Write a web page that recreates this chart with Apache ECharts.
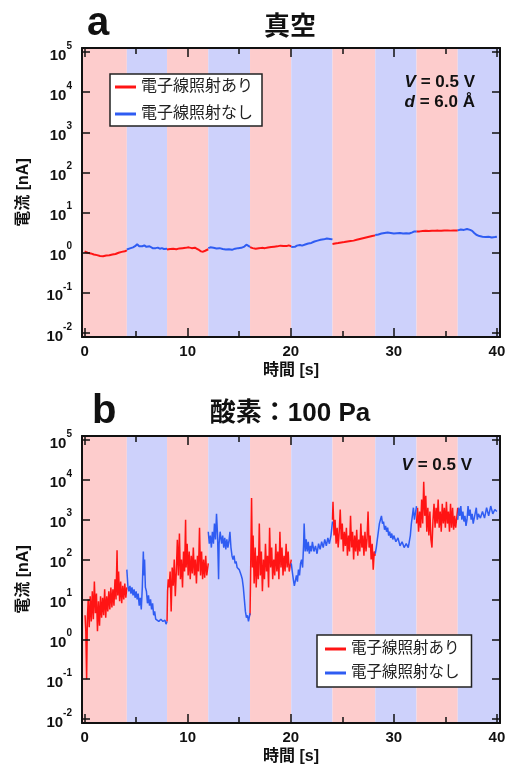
<!DOCTYPE html>
<html>
<head>
<meta charset="utf-8">
<script src="https://cdn.jsdelivr.net/npm/echarts@6/dist/echarts.min.js"></script>
<style>
  html, body { margin: 0; padding: 0; background: #fff; }
  #chart { width: 506px; height: 771px; }
</style>
</head>
<body>
<div id="chart"></div>
<script>
// 時間軸・電流軸の範囲
const X_MIN = -0.25, X_MAX = 40.3;
const Y_MIN = Math.pow(10, -2.1), Y_MAX = Math.pow(10, 5.1);

// 照射あり/なしの区間境界 [s]
const bandEdges = [-0.25, 4.1, 8.0, 12.0, 16.05, 20.05, 24.05, 28.2, 32.2, 36.2, 40.3];

const seriesNames = ['電子線照射あり', '電子線照射なし'];

// a 真空 : [時間 s, 電流 nA]
const vacOn = [
  [[0,1.07],[0.3,1.0],[0.6,0.96],[0.9,0.9],[1.2,0.87],[1.5,0.83],[1.8,0.82],[2.1,0.85],[2.4,0.86],[2.7,0.9],[3.0,0.93],[3.3,1.0],[3.6,1.05],[3.9,1.09],[4.1,1.14]],
  [[8.0,1.2],[8.3,1.23],[8.6,1.25],[8.9,1.22],[9.2,1.28],[9.5,1.3],[9.8,1.32],[10.1,1.36],[10.4,1.3],[10.7,1.33],[10.9,1.25],[11.1,1.17],[11.3,1.08],[11.5,1.06],[11.7,1.12],[12.0,1.22]],
  [[16.05,1.38],[16.3,1.3],[16.6,1.26],[16.9,1.29],[17.2,1.32],[17.5,1.3],[17.8,1.35],[18.1,1.38],[18.4,1.41],[18.7,1.44],[19.0,1.5],[19.3,1.47],[19.6,1.46],[19.8,1.52],[20.05,1.45]],
  [[24.05,1.65],[24.3,1.7],[24.6,1.74],[24.9,1.8],[25.2,1.84],[25.5,1.9],[25.8,1.96],[26.1,2.0],[26.4,2.1],[26.7,2.2],[27.0,2.3],[27.3,2.4],[27.6,2.5],[27.9,2.6],[28.2,2.7]],
  [[32.2,3.4],[32.5,3.4],[32.8,3.45],[33.1,3.5],[33.4,3.45],[33.7,3.5],[34.0,3.52],[34.3,3.55],[34.6,3.5],[34.9,3.56],[35.2,3.6],[35.5,3.55],[35.8,3.6],[36.2,3.55]]
];
const vacOff = [
  [[4.1,1.2],[4.4,1.28],[4.7,1.36],[4.9,1.45],[5.1,1.62],[5.3,1.45],[5.45,1.34],[5.6,1.45],[5.8,1.52],[6.0,1.4],[6.1,1.33],[6.3,1.45],[6.45,1.5],[6.6,1.3],[6.75,1.2],[6.9,1.3],[7.1,1.34],[7.3,1.26],[7.5,1.3],[7.7,1.24],[8.0,1.25]],
  [[12.0,1.3],[12.2,1.36],[12.5,1.33],[12.8,1.28],[13.1,1.3],[13.4,1.24],[13.7,1.2],[14.0,1.22],[14.3,1.18],[14.6,1.26],[14.9,1.3],[15.2,1.32],[15.5,1.42],[15.7,1.58],[15.85,1.7],[16.05,1.4]],
  [[20.05,1.38],[20.2,1.45],[20.4,1.4],[20.6,1.5],[20.9,1.55],[21.1,1.5],[21.4,1.6],[21.7,1.7],[22.0,1.75],[22.3,1.9],[22.6,2.0],[22.9,2.1],[23.2,2.15],[23.5,2.25],[23.8,2.2],[24.05,2.15]],
  [[28.2,2.75],[28.5,2.85],[28.8,3.0],[29.1,3.1],[29.4,3.2],[29.7,3.1],[30.0,3.0],[30.3,3.05],[30.6,3.1],[30.9,3.0],[31.2,3.05],[31.5,3.0],[31.8,3.2],[32.0,3.4],[32.2,3.4]],
  [[36.2,3.6],[36.5,3.8],[36.8,3.7],[37.1,3.9],[37.4,3.7],[37.6,3.5],[37.8,3.1],[38.0,2.8],[38.3,2.6],[38.6,2.5],[38.9,2.45],[39.2,2.5],[39.5,2.4],[39.8,2.45],[40.0,2.5]]
];

// b 酸素 100 Pa : [時間 s, 電流 nA]
const oxOn = [
  [[0.05,4],[0.12,1.6],[0.2,0.1],[0.27,3.2],[0.35,10],[0.45,2],[0.55,12],[0.65,2.8],[0.75,16],[0.85,3.2],[0.95,28],[1.05,4.5],[1.15,14],[1.25,1.6],[1.35,9],[1.45,2.2],[1.55,12],[1.65,3.5],[1.75,11],[1.85,4],[1.95,18],[2.05,3.5],[2.15,12],[2.25,5],[2.35,16],[2.45,5.6],[2.55,20],[2.65,6.3],[2.75,18],[2.85,7],[2.95,32],[3.05,10],[3.15,170],[3.22,12.6],[3.3,50],[3.4,9],[3.5,28],[3.6,8],[3.7,22],[3.8,10],[3.9,25],[4.0,11],[4.1,20]],
  [[8.0,2.8],[8.05,16],[8.12,32],[8.2,20],[8.3,50],[8.4,5],[8.5,63],[8.6,22],[8.7,100],[8.8,12],[8.9,50],[9.0,316],[9.1,40],[9.2,450],[9.3,32],[9.4,100],[9.5,20],[9.6,160],[9.7,50],[9.8,1000],[9.85,63],[9.95,250],[10.05,40],[10.15,160],[10.25,32],[10.35,125],[10.45,45],[10.55,200],[10.65,40],[10.75,100],[10.85,25],[10.95,125],[11.05,50],[11.15,630],[11.25,40],[11.35,160],[11.45,32],[11.55,100],[11.65,35],[11.75,125],[11.85,40],[12.0,80]],
  [[16.05,4],[16.1,32],[16.2,3500],[16.28,63],[16.35,400],[16.45,25],[16.55,200],[16.65,20],[16.75,125],[16.85,32],[16.95,800],[17.05,40],[17.15,160],[17.25,16],[17.35,100],[17.45,32],[17.55,250],[17.65,50],[17.75,125],[17.85,20],[17.95,630],[18.05,63],[18.15,200],[18.25,32],[18.35,100],[18.45,40],[18.55,250],[18.65,50],[18.75,160],[18.85,32],[18.95,500],[19.05,63],[19.15,200],[19.25,40],[19.35,125],[19.45,50],[19.55,250],[19.65,63],[19.75,160],[19.85,50],[20.05,100]],
  [[24.05,1000],[24.1,2800],[24.2,400],[24.3,1000],[24.4,250],[24.5,630],[24.6,200],[24.7,500],[24.8,1800],[24.9,320],[25.0,800],[25.1,160],[25.2,500],[25.3,220],[25.4,630],[25.5,125],[25.6,400],[25.7,160],[25.8,1250],[25.9,200],[26.0,500],[26.1,100],[26.2,400],[26.3,160],[26.4,560],[26.5,125],[26.6,320],[26.7,160],[26.8,800],[26.9,200],[27.0,400],[27.1,125],[27.2,500],[27.3,160],[27.4,320],[27.5,1600],[27.6,200],[27.7,400],[27.8,100],[27.9,250],[28.0,56],[28.1,160],[28.2,125]],
  [[32.2,800],[32.3,2000],[32.4,500],[32.5,1600],[32.6,630],[32.7,3200],[32.8,800],[32.9,9000],[33.0,1250],[33.1,4000],[33.2,500],[33.3,2000],[33.4,400],[33.5,1600],[33.6,320],[33.7,200],[33.8,1000],[33.9,2500],[34.0,630],[34.1,2000],[34.2,800],[34.3,3200],[34.4,630],[34.5,1600],[34.6,500],[34.7,2500],[34.8,800],[34.9,2000],[35.0,630],[35.1,2800],[35.2,800],[35.3,1600],[35.4,500],[35.5,2500],[35.6,630],[35.7,2000],[35.8,560],[35.9,1250],[36.0,630],[36.2,2000]]
];
const oxOff = [
  [[4.1,56],[4.2,22],[4.3,16],[4.4,22],[4.5,14],[4.6,20],[4.7,12.6],[4.8,18],[4.9,11],[5.0,16],[5.1,10],[5.2,14],[5.3,7],[5.4,11],[5.5,5.6],[5.6,20],[5.7,160],[5.76,40],[5.82,100],[5.9,20],[6.0,16],[6.1,8],[6.2,12.6],[6.3,7],[6.4,10],[6.5,5.6],[6.6,8],[6.7,4],[6.8,5],[6.9,3.2],[7.0,3.2],[7.2,2.8],[7.4,3.2],[7.6,2.8],[7.8,3],[7.9,2.4],[8.0,2.8]],
  [[12.0,500],[12.1,250],[12.2,400],[12.3,200],[12.4,500],[12.5,250],[12.6,800],[12.7,320],[12.8,1400],[12.9,400],[13.0,32],[13.05,250],[13.15,500],[13.3,250],[13.4,400],[13.5,200],[13.6,350],[13.7,180],[13.8,320],[13.9,200],[14.0,280],[14.1,500],[14.2,200],[14.3,125],[14.4,100],[14.5,125],[14.6,80],[14.7,90],[14.8,63],[14.9,70],[15.0,56],[15.1,50],[15.2,40],[15.3,32],[15.4,20],[15.5,10],[15.6,5],[15.7,3.5],[15.8,4],[15.9,2.8],[16.05,4.5]],
  [[20.05,80],[20.15,50],[20.25,32],[20.35,22],[20.45,20],[20.55,40],[20.65,28],[20.75,56],[20.85,40],[20.95,80],[21.05,100],[21.15,63],[21.25,250],[21.3,800],[21.4,160],[21.5,320],[21.6,160],[21.7,280],[21.8,140],[21.9,220],[22.0,160],[22.1,280],[22.25,160],[22.4,220],[22.55,140],[22.7,250],[22.85,180],[23.0,280],[23.15,200],[23.3,320],[23.45,220],[23.6,350],[23.75,250],[23.9,400],[24.05,900]],
  [[28.2,140],[28.3,200],[28.4,320],[28.5,500],[28.6,800],[28.7,1000],[28.8,1250],[28.9,800],[29.0,900],[29.1,560],[29.2,700],[29.3,500],[29.4,630],[29.5,400],[29.6,500],[29.7,350],[29.8,450],[29.9,320],[30.0,400],[30.2,280],[30.4,350],[30.6,220],[30.8,280],[31.0,200],[31.2,250],[31.4,200],[31.5,280],[31.6,400],[31.7,800],[31.8,1250],[31.9,2000],[32.0,1000],[32.2,2200]],
  [[36.2,1000],[36.3,2000],[36.4,1250],[36.5,2200],[36.6,1000],[36.7,1600],[36.8,900],[36.9,1250],[37.0,700],[37.1,1000],[37.2,2200],[37.3,1250],[37.4,1800],[37.5,1000],[37.6,1400],[37.7,800],[37.8,1100],[38.0,2000],[38.1,1000],[38.2,1400],[38.4,1100],[38.6,1600],[38.8,1100],[39.0,2000],[39.2,1250],[39.4,2200],[39.6,1400],[39.8,1800],[40.0,1600]]
];

const RED = '#ff1414';
const BLUE = '#2f5cf2';
const PINK = '#fdcccc';
const LAVENDER = '#cdd1fb';
const FONT = '"Liberation Sans", "Noto Sans CJK JP", sans-serif';

function powLabel(v) {
  const e = Math.log10(v);
  const n = Math.round(e);
  if (Math.abs(e - n) > 1e-6) return '';
  return '{m|10}{e|' + n + '}';
}
function timeLabel(v) {
  return Math.abs(v - Math.round(v / 10) * 10) < 1e-6 ? String(Math.round(v)) : '';
}

function xAxisPair(gridIndex) {
  const common = {
    type: 'value', gridIndex: gridIndex, min: X_MIN, max: X_MAX, z: 10,
    axisLine: { show: true, onZero: false, lineStyle: { color: '#111', width: 2 } },
    axisTick: { show: true, inside: true, length: 9, lineStyle: { color: '#111', width: 1.5 } },
    minorTick: { show: true, splitNumber: 2, length: 6, lineStyle: { color: '#111', width: 1.5 } },
    splitLine: { show: false }, minorSplitLine: { show: false }
  };
  return [
    Object.assign({}, common, {
      position: 'bottom',
      name: '時間 [s]', nameLocation: 'middle', nameGap: 26,
      nameTextStyle: { fontFamily: FONT, fontSize: 16, fontWeight: 'bold', color: '#111' },
      axisLabel: { show: true, formatter: timeLabel, margin: 7, fontFamily: FONT, fontSize: 15, fontWeight: 'bold', color: '#111' }
    }),
    Object.assign({}, common, { position: 'top', axisLabel: { show: false } })
  ];
}
function yAxisPair(gridIndex) {
  const common = {
    type: 'log', logBase: 10, gridIndex: gridIndex, min: Y_MIN, max: Y_MAX, splitNumber: 8, z: 10,
    axisLine: { show: true, onZero: false, lineStyle: { color: '#111', width: 2 } },
    axisTick: { show: true, inside: true, length: 8, lineStyle: { color: '#111', width: 1.5 } },
    minorTick: { show: false }, splitLine: { show: false }, minorSplitLine: { show: false }
  };
  return [
    Object.assign({}, common, {
      position: 'left',
      name: '電流 [nA]', nameLocation: 'middle', nameGap: 50,
      nameTextStyle: { fontFamily: FONT, fontSize: 16, fontWeight: 'bold', color: '#111' },
      axisLabel: {
        show: true, formatter: powLabel, margin: 10, color: '#111',
        rich: {
          m: { fontFamily: FONT, fontSize: 15, fontWeight: 'bold', color: '#111', padding: [7, 0, 0, 0], verticalAlign: 'bottom' },
          e: { fontFamily: FONT, fontSize: 10, fontWeight: 'bold', color: '#111', verticalAlign: 'top' }
        }
      }
    }),
    Object.assign({}, common, { position: 'right', axisLabel: { show: false } })
  ];
}

function bandSeries(axisIndex) {
  const areas = [];
  for (let i = 0; i < bandEdges.length - 1; i++) {
    areas.push([
      { xAxis: bandEdges[i], yAxis: Y_MIN, itemStyle: { color: i % 2 === 0 ? PINK : LAVENDER } },
      { xAxis: bandEdges[i + 1], yAxis: Y_MAX }
    ]);
  }
  return {
    type: 'line', xAxisIndex: axisIndex, yAxisIndex: axisIndex, data: [], z: 1, silent: true,
    markArea: { silent: true, itemStyle: { opacity: 1 }, label: { show: false }, data: areas }
  };
}
function traceSeries(segments, name, color, axisIndex, width) {
  return segments.map(function (seg) {
    return {
      type: 'line', name: name, xAxisIndex: axisIndex, yAxisIndex: axisIndex,
      data: seg, showSymbol: false, symbol: 'none', color: color, z: 3,
      lineStyle: { color: color, width: width }, itemStyle: { color: color }
    };
  });
}

const series = [].concat(
  [bandSeries(0)],
  traceSeries(vacOn, seriesNames[0], RED, 0, 2),
  traceSeries(vacOff, seriesNames[1], BLUE, 0, 2),
  [bandSeries(2)],
  traceSeries(oxOn, seriesNames[0], RED, 2, 1.5),
  traceSeries(oxOff, seriesNames[1], BLUE, 2, 1.5)
);

function legendBox(left, top, padding, gap, fontSize) {
  return {
    left: left, top: top, orient: 'vertical', data: seriesNames, z: 12,
    icon: 'rect', itemWidth: 21, itemHeight: 3, itemGap: gap, padding: padding,
    backgroundColor: '#fff', borderColor: '#222', borderWidth: 1.5, borderRadius: 0,
    selectedMode: false,
    textStyle: { fontFamily: FONT, fontSize: fontSize, color: '#222', lineHeight: 18 }
  };
}

function label(x, y, text, size, align, rich) {
  const style = {
    x: x, y: y, text: text, align: align, verticalAlign: 'middle',
    fontFamily: FONT, fontSize: size, fontWeight: 'bold', fill: '#111'
  };
  if (rich) style.rich = rich;
  return { type: 'text', x: 0, y: 0, z: 10, style: style };
}
const italicV = {
  i: { fontFamily: FONT, fontSize: 17, fontWeight: 'bold', fontStyle: 'italic', fill: '#111' },
  n: { fontFamily: FONT, fontSize: 17, fontWeight: 'bold', fill: '#111' }
};

const chart = echarts.init(document.getElementById('chart'), null, { renderer: 'canvas' });
chart.setOption({
  animation: false,
  backgroundColor: '#fff',
  grid: [
    { left: 82, right: 6, top: 48, height: 289, outerBoundsMode: 'none' },
    { left: 82, right: 6, top: 436, height: 287, outerBoundsMode: 'none' }
  ],
  xAxis: [].concat(xAxisPair(0), xAxisPair(1)),
  yAxis: [].concat(yAxisPair(0), yAxisPair(1)),
  legend: [
    legendBox(110, 74, [4, 9, 3, 5], 9, 16),
    legendBox(317, 635, [5, 12, 5, 8], 6, 15.5)
  ],
  graphic: [
    label(87, 24, 'a', 40, 'left'),
    label(290, 28, '真空', 26, 'center'),
    label(475, 82.5, '{i|V}{n| = 0.5 V}', 17, 'right', italicV),
    label(475, 102, '{i|d}{n| = 6.0 Å}', 17, 'right', italicV),
    label(92, 412, 'b', 40, 'left'),
    label(290, 414, '酸素：100 Pa', 26, 'center'),
    label(472, 465, '{i|V}{n| = 0.5 V}', 17, 'right', italicV)
  ],
  series: series
});
</script>
</body>
</html>
